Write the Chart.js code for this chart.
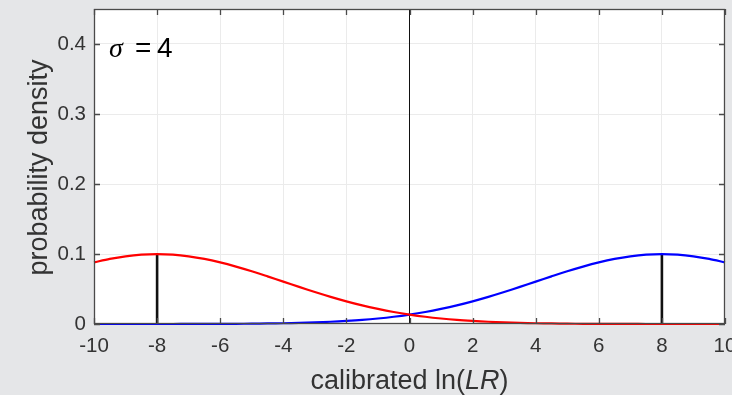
<!DOCTYPE html>
<html>
<head>
<meta charset="utf-8">
<script src="https://cdn.jsdelivr.net/npm/chart.js@4/dist/chart.umd.min.js"></script>
<style>
html,body{margin:0;padding:0;background:#e5e6e8;}
canvas{display:block;}
</style>
</head>
<body>
<canvas id="c" width="732" height="395"></canvas>
<script>
// ---- data ----
const xValues = [-10,-9.5,-9,-8.5,-8,-7.5,-7,-6.5,-6,-5.5,-5,-4.5,-4,-3.5,-3,-2.5,-2,-1.5,-1,-0.5,0,
                 0.5,1,1.5,2,2.5,3,3.5,4,4.5,5,5.5,6,6.5,7,7.5,8,8.5,9,9.5,10];
const redDensity = [0.0880,0.0930,0.0967,0.0990,0.0997,0.0990,0.0967,0.0930,0.0880,0.0820,0.0753,
                    0.0680,0.0605,0.0530,0.0457,0.0388,0.0324,0.0266,0.0216,0.0172,0.0135,
                    0.0104,0.0079,0.0059,0.0044,0.0032,0.0023,0.0016,0.0011,0.0008,0.0005,
                    0.0003,0.0002,0.0001,0.0001,0,0,0,0,0,0];
const blueDensity = [0,0,0,0,0,0,0.0001,0.0001,0.0002,0.0003,0.0005,0.0008,0.0011,0.0016,0.0023,
                     0.0032,0.0044,0.0059,0.0079,0.0104,0.0135,0.0172,0.0216,0.0266,0.0324,
                     0.0388,0.0457,0.0530,0.0605,0.0680,0.0753,0.0820,0.0880,0.0930,0.0967,
                     0.0990,0.0997,0.0990,0.0967,0.0930,0.0880];
const stemX = [-8, 8];
const stemHeight = [0.0997, 0.0997];
const xTicks = [-10,-8,-6,-4,-2,0,2,4,6,8,10];
const yTicks = [0,0.1,0.2,0.3,0.4];
const xRange = [-10, 10];
const yRange = [0, 0.45];
const sigmaLabel = "4";

// ---- build datasets ----
const redPts = xValues.map((x,i)=>({x:x,y:redDensity[i]}));
const bluePts = xValues.map((x,i)=>({x:x,y:blueDensity[i]}));
const stemSets = stemX.map((x,i)=>({
  data:[{x:x,y:0},{x:x,y:stemHeight[i]}],
  borderColor:'#111', borderWidth:2.6, pointRadius:0, showLine:true, fill:false, clip:false
}));

const SANS = "'Liberation Sans', Arial, sans-serif";
const LABEL_PX = 27;

const framePlugin = {
  id:'frame',
  beforeDraw(chart){
    const {ctx, chartArea:a} = chart;
    ctx.save();
    ctx.fillStyle = '#e5e6e8';
    ctx.fillRect(0,0,chart.width,chart.height);
    ctx.fillStyle = '#ffffff';
    ctx.fillRect(a.left,a.top,a.right-a.left,a.bottom-a.top);
    ctx.restore();
  },
  afterDraw(chart){
    const {ctx, chartArea:a, scales} = chart;
    const xs = scales.x, ys = scales.y;
    ctx.save();
    // box
    ctx.strokeStyle = '#4a4a4a';
    ctx.lineWidth = 1.3;
    ctx.strokeRect(a.left+0.5,a.top+0.5,a.right-a.left-1,a.bottom-a.top-1);
    // inner ticks
    const tl = 6;
    ctx.beginPath();
    xTicks.forEach(v=>{
      const p = Math.round(xs.getPixelForValue(v))+0.5;
      ctx.moveTo(p,a.bottom); ctx.lineTo(p,a.bottom-tl);
      ctx.moveTo(p,a.top); ctx.lineTo(p,a.top+tl);
    });
    yTicks.forEach(v=>{
      const p = Math.round(ys.getPixelForValue(v))+0.5;
      ctx.moveTo(a.left,p); ctx.lineTo(a.left+tl,p);
      ctx.moveTo(a.right,p); ctx.lineTo(a.right-tl,p);
    });
    ctx.stroke();

    // y title
    ctx.fillStyle = '#333333';
    ctx.font = LABEL_PX+"px "+SANS;
    ctx.textAlign = 'center';
    ctx.textBaseline = 'alphabetic';
    ctx.save();
    ctx.translate(47,(a.top+a.bottom)/2+1);
    ctx.rotate(-Math.PI/2);
    ctx.fillText('probability density',0,0);
    ctx.restore();

    // x title with italic LR
    const parts = [
      {t:'calibrated ln(', f:LABEL_PX+"px "+SANS},
      {t:'LR', f:"italic "+LABEL_PX+"px "+SANS},
      {t:')', f:LABEL_PX+"px "+SANS}
    ];
    let total = 0;
    parts.forEach(p=>{ctx.font=p.f; p.w=ctx.measureText(p.t).width; total+=p.w;});
    let x0 = (a.left+a.right)/2 - total/2;
    ctx.textAlign = 'left';
    parts.forEach(p=>{ctx.font=p.f; ctx.fillText(p.t,x0,389); x0+=p.w;});

    // sigma annotation
    ctx.fillStyle = '#000';
    ctx.font = "italic 28px 'Liberation Serif', serif";
    ctx.fillText('\u03C3',109,57);
    const sw = ctx.measureText('\u03C3').width;
    ctx.font = "28px "+SANS;
    ctx.fillText('=',135,57);
    ctx.fillText(sigmaLabel,157,57);
    ctx.restore();
  }
};

new Chart(document.getElementById('c'),{
  type:'scatter',
  data:{
    datasets:[
      {data:redPts, borderColor:'#ff0000', borderWidth:2.2, pointRadius:0, showLine:true, fill:false, tension:0.3, clip:false},
      {data:bluePts, borderColor:'#0000ff', borderWidth:2.2, pointRadius:0, showLine:true, fill:false, tension:0.3, clip:false},
      ...stemSets,
      {data:[{x:0,y:yRange[0]},{x:0,y:yRange[1]}], borderColor:'#111', borderWidth:1, pointRadius:0, showLine:true, fill:false}
    ]
  },
  options:{
    responsive:false,
    animation:false,
    events:[],
    layout:{padding:{top:9,right:7,left:0,bottom:0}},
    plugins:{legend:{display:false},tooltip:{enabled:false},title:{display:false}},
    scales:{
      x:{
        type:'linear', min:xRange[0], max:xRange[1],
        afterBuildTicks(s){ s.ticks = xTicks.map(v=>({value:v})); },
        afterFit(s){ s.height = 71; s.paddingLeft = 0; s.paddingRight = 0; },
        ticks:{color:'#333333', font:{family:SANS, size:20.5}, padding:10,
               maxRotation:0, autoSkip:false, callback:(v)=>String(v)},
        grid:{color:'#ebebeb', lineWidth:1, drawTicks:false},
        border:{display:false}
      },
      y:{
        type:'linear', min:yRange[0], max:yRange[1],
        afterBuildTicks(s){ s.ticks = yTicks.map(v=>({value:v})); },
        afterFit(s){ s.width = 94; s.paddingTop = 0; s.paddingBottom = 0; },
        ticks:{color:'#333333', font:{family:SANS, size:20.5}, padding:8,
               callback:(v)=> v===0 ? '0' : v.toFixed(1)},
        grid:{color:'#ebebeb', lineWidth:1, drawTicks:false},
        border:{display:false}
      }
    }
  },
  plugins:[framePlugin]
});
</script>
</body>
</html>
